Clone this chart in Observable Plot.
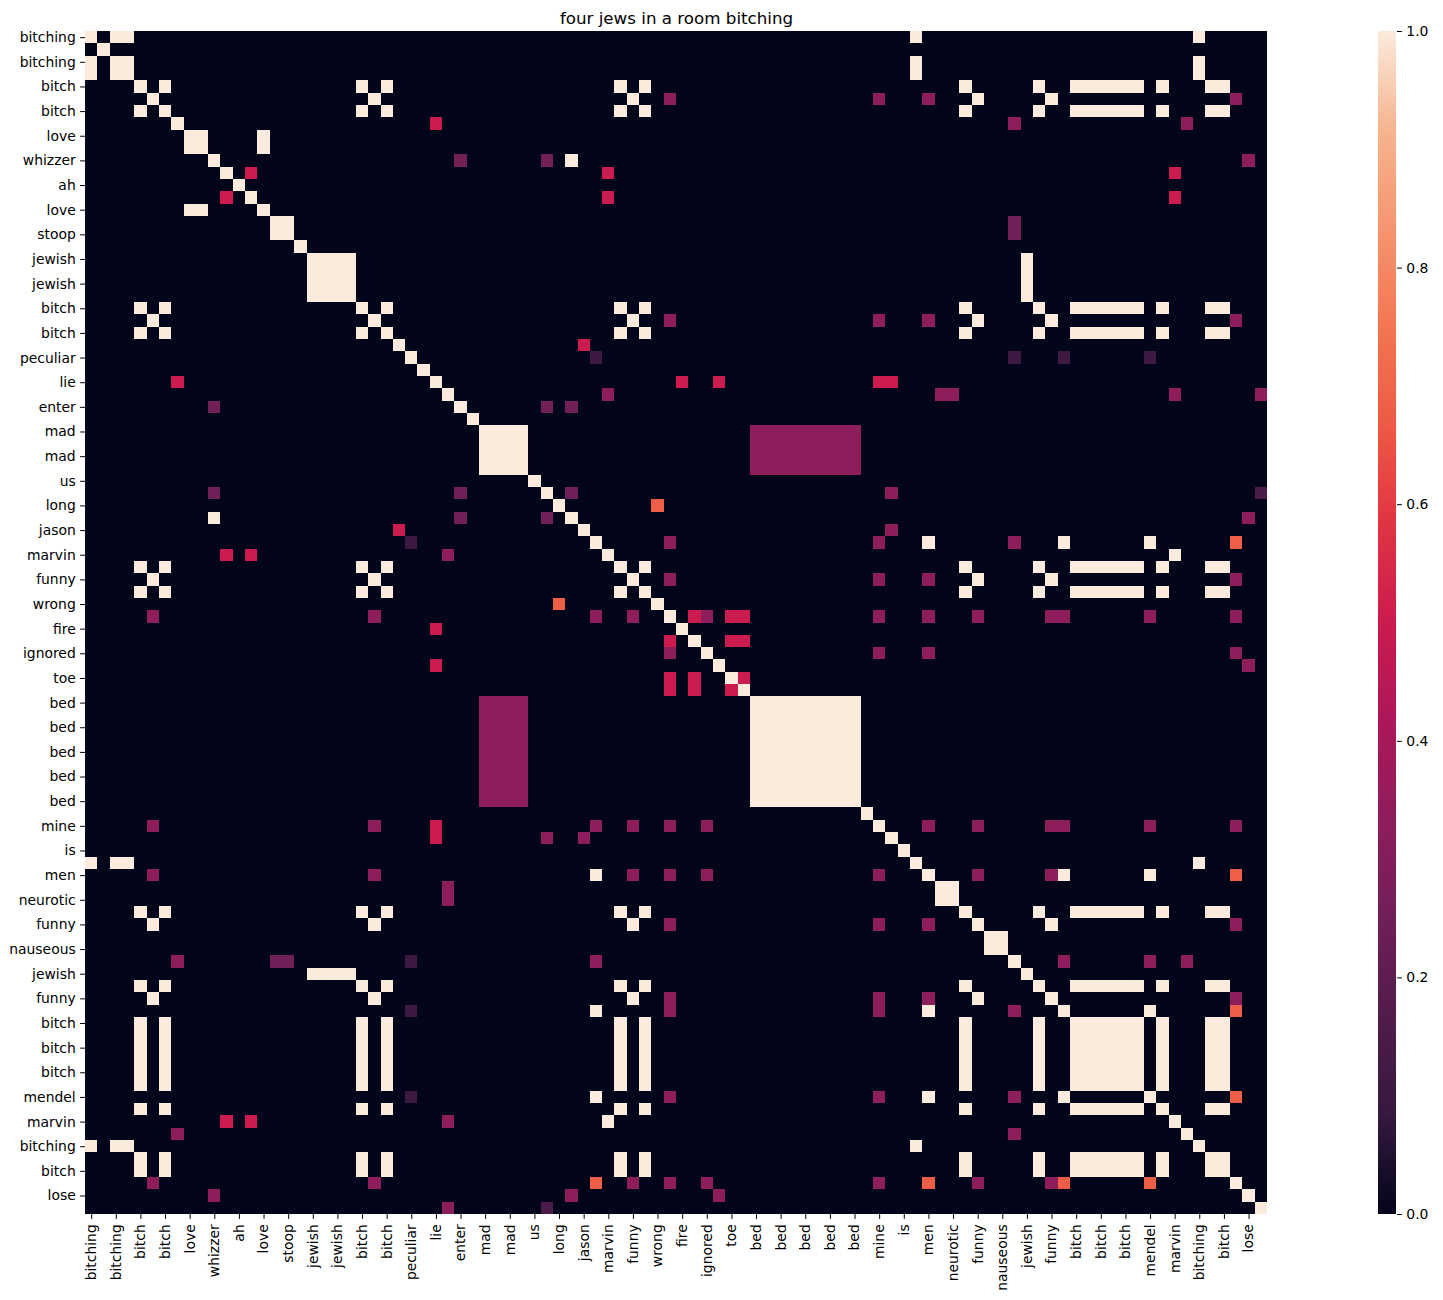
<!DOCTYPE html>
<html><head><meta charset="utf-8">
<script src="https://cdn.jsdelivr.net/npm/d3@7"></script>
<script src="https://cdn.jsdelivr.net/npm/@observablehq/plot@0.6"></script>
<style>
body{margin:0;background:#fff;}
#wrap{position:relative;width:1443px;height:1300px;background:#fff;font-family:"DejaVu Sans",sans-serif;overflow:hidden;}
#main{position:absolute;left:0;top:0;width:1443px;height:1300px;}
#cbar{position:absolute;left:1378px;top:0;width:70px;height:1300px;}
#wrap svg{max-width:none !important;}
</style></head><body><div id="wrap"><div id="main"></div><div id="cbar"></div></div>
<script>
const title = "four jews in a room bitching";

// token sequence (every other one is shown as a tick label)
const words = [
  "bitching","room","bitching","bitching","bitch","funny","bitch","moan",
  "love","love","whizzer","trina","ah","wife","love","stoop",
  "stoop","boys","jewish","jewish","jewish","jewish","bitch","funny",
  "bitch","kid","peculiar","strange","lie","deep","enter","sad",
  "mad","mad","mad","mad","us","spend","long","whizzer",
  "jason","mendel","marvin","bitch","funny","bitch","wrong","good",
  "fire","flame","ignored","burning","toe","foot","bed","bed",
  "bed","bed","bed","bed","bed","bed","bed","sleep",
  "mine","true","is","bitching","men","neurotic","neurotic","bitch",
  "funny","nauseous","nauseous","sick","jewish","bitch","funny","mendel",
  "bitch","bitch","bitch","bitch","bitch","bitch","mendel","bitch",
  "marvin","whine","bitching","bitch","bitch","man","lose","win"
];

// similarity between distinct tokens (identical tokens = 1)
const pairSims = [
  ["moan","lie",0.5],["moan","sick",0.33],["moan","whine",0.33],
  ["whizzer","enter",0.25],["whizzer","spend",0.25],["whizzer","lose",0.33],
  ["trina","wife",0.5],["trina","marvin",0.5],["wife","marvin",0.5],
  ["stoop","sick",0.25],
  ["kid","jason",0.5],
  ["peculiar","mendel",0.11],["peculiar","sick",0.11],
  ["lie","fire",0.5],["lie","burning",0.5],["lie","mine",0.5],["lie","true",0.5],
  ["deep","marvin",0.33],["deep","neurotic",0.33],["deep","win",0.33],
  ["enter","spend",0.25],
  ["mad","bed",0.33],
  ["spend","true",0.33],["spend","win",0.15],
  ["long","wrong",0.68],
  ["jason","true",0.33],
  ["mendel","good",0.33],["mendel","mine",0.33],["mendel","men",1.0],["mendel","sick",0.33],["mendel","man",0.68],
  ["funny","good",0.33],["funny","mine",0.33],["funny","men",0.33],["funny","man",0.33],
  ["good","flame",0.5],["good","ignored",0.33],["good","toe",0.5],["good","foot",0.5],
  ["good","mine",0.33],["good","men",0.33],["good","man",0.33],
  ["flame","toe",0.5],["flame","foot",0.5],["toe","foot",0.5],
  ["ignored","mine",0.33],["ignored","men",0.33],["ignored","man",0.33],
  ["burning","lose",0.33],
  ["mine","men",0.33],["mine","man",0.33],
  ["men","man",0.68],
  ["sick","whine",0.33]
];

const colorTicks = [0, 0.2, 0.4, 0.6, 0.8, 1.0];

// seaborn "rocket" colormap stops
const rocketStops  = [0, 0.083, 0.167, 0.25, 0.333, 0.417, 0.5, 0.583, 0.667, 0.75, 0.833, 0.917, 1];
const rocketColors = ["#03051a","#35193e","#511c4c","#701f57","#8e1d5b","#ad1759","#cb1b4f","#e13342","#ee5a45","#f37651","#f5956f","#f6b48f","#faebdd"];
const rocketScale = d3.scaleLinear().domain(rocketStops).range(rocketColors).interpolate(d3.interpolateRgb).clamp(true);
const rocket = t => rocketScale(t);

const key = (a, b) => a < b ? a + "|" + b : b + "|" + a;
const simMap = new Map(pairSims.map(([a, b, v]) => [key(a, b), v]));
const idx = d3.range(words.length);
const evenIdx = idx.filter(i => i % 2 === 0);
const cells = [];
for (const i of idx) for (const j of idx) {
  const v = words[i] === words[j] ? 1 : (simMap.get(key(words[i], words[j])) ?? 0);
  cells.push({i, j, v});
}

const main = Plot.plot({
  width: 1443, height: 1300,
  marginLeft: 85, marginTop: 31, marginRight: 176, marginBottom: 86,
  x: {type: "band", domain: idx, padding: 0, round: false, axis: null},
  y: {type: "band", domain: idx, padding: 0, round: false, axis: null},
  color: {type: "linear", domain: [0, 1], interpolate: rocket},
  style: {fontFamily: "DejaVu Sans", fontSize: "13.9px", color: "#000", background: "#fff", overflow: "visible", maxWidth: "none"},
  marks: [
    Plot.cell(cells, {x: "j", y: "i", fill: "v", inset: 0, shapeRendering: "crispEdges"}),
    Plot.axisY(evenIdx, {tickFormat: i => words[i], tickSize: 4.9, tickPadding: 4.9, fontSize: 13.9, label: null}),
    Plot.axisX(evenIdx, {tickFormat: i => words[i], tickRotate: -90, tickSize: 4.9, tickPadding: 4.9, fontSize: 13.9, label: null}),
    Plot.text([title], {frameAnchor: "top", text: d => d, dy: -8, lineAnchor: "bottom", fontSize: 16.7, fill: "#000"})
  ]
});
document.getElementById("main").appendChild(main);

const bins = d3.range(256).map(k => ({y1: k / 256, y2: (k + 1) / 256, t: (k + 0.5) / 256}));
const cbar = Plot.plot({
  width: 70, height: 1300,
  marginLeft: 0, marginRight: 52, marginTop: 31, marginBottom: 86,
  x: {domain: [0, 1], axis: null},
  y: {domain: [0, 1], axis: null},
  color: {type: "linear", domain: [0, 1], interpolate: rocket},
  style: {fontFamily: "DejaVu Sans", fontSize: "13.9px", color: "#000", background: "transparent", overflow: "visible", maxWidth: "none"},
  marks: [
    Plot.rect(bins, {x1: 0, x2: 1, y1: "y1", y2: "y2", fill: "t", shapeRendering: "crispEdges"}),
    Plot.axisY(colorTicks, {anchor: "right", tickFormat: d3.format(".1f"), tickSize: 4.9, tickPadding: 4.9, fontSize: 13.9, label: null})
  ]
});
document.getElementById("cbar").appendChild(cbar);
</script>
</body></html>
